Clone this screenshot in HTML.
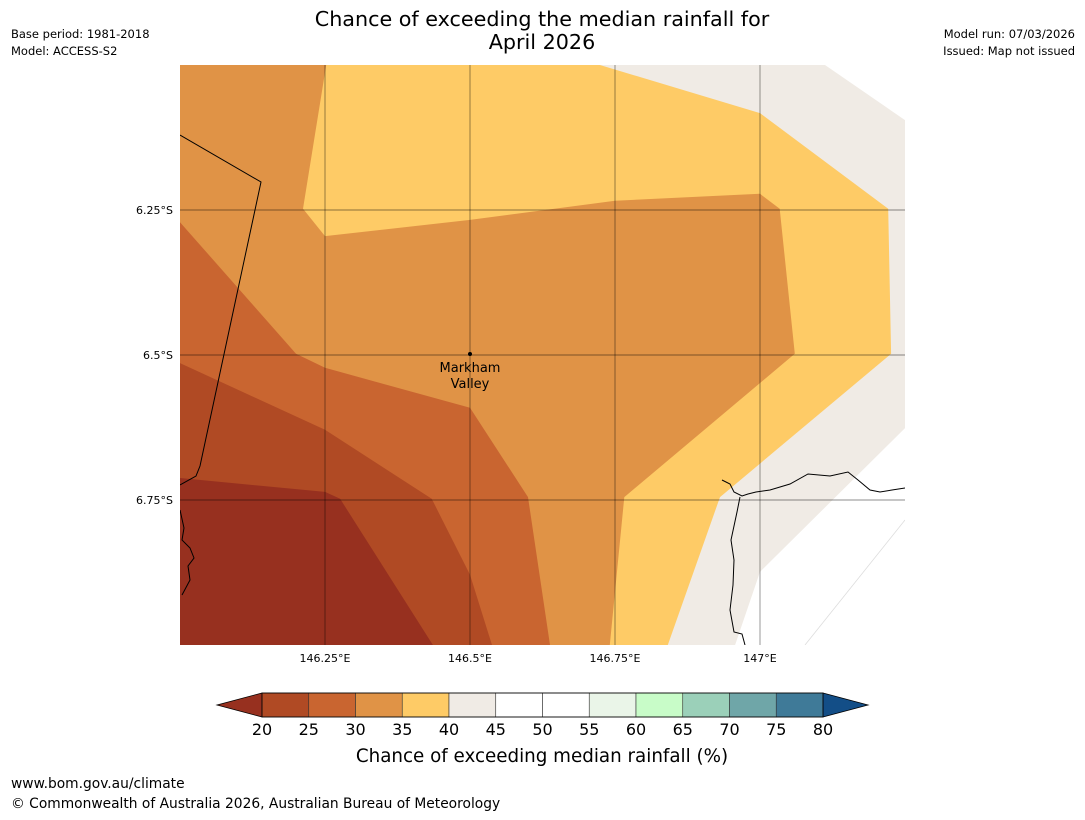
<!DOCTYPE html>
<html><head><meta charset="utf-8">
<style>
body{margin:0;background:#fff;font-family:"DejaVu Sans","Liberation Sans",sans-serif;}
svg text{font-family:"DejaVu Sans","Liberation Sans",sans-serif;}
</style></head>
<body>
<svg id="chart" width="1085" height="816" xmlns="http://www.w3.org/2000/svg">
<rect width="1085" height="816" fill="#fff"/>
<text x="542" y="26" font-size="20.7" text-anchor="middle">Chance of exceeding the median rainfall for</text>
<text x="542" y="49" font-size="20.7" text-anchor="middle">April 2026</text>
<text x="11" y="38" font-size="11.5">Base period: 1981-2018</text>
<text x="11" y="55" font-size="11.5">Model: ACCESS-S2</text>
<text x="1075" y="38" font-size="11.5" text-anchor="end">Model run: 07/03/2026</text>
<text x="1075" y="55" font-size="11.5" text-anchor="end">Issued: Map not issued</text>
<defs><clipPath id="mapclip"><rect x="180" y="65" width="725" height="580"/></clipPath></defs>
<g id="map" clip-path="url(#mapclip)"></g>
<g id="labels"></g>
<g id="cbar"></g>
<text x="542" y="762" font-size="18.3" text-anchor="middle">Chance of exceeding median rainfall (%)</text>
<text x="11" y="788" font-size="13.8">www.bom.gov.au/climate</text>
<text x="11" y="808" font-size="13.8">© Commonwealth of Australia 2026, Australian Bureau of Meteorology</text>
</svg>
<script>
const bandNames=['below-50','below-45','below-40','below-35','below-30','below-25'];
const bandColors=['#f0ebe5','#fecb66','#e09346','#c96530','#b04a24','#97301f'];
const lon50=[146,147.112,147.25,147.25,147.0,146.957,146];
const lat50=[6.0,6.0,6.095,6.626,6.874,7.0,7.0];
const lon45=[146,146.724,147.0,147.221,147.226,146.931,146.841,146];
const lat45=[6.0,6.0,6.083,6.248,6.498,6.745,7.0,7.0];
const lon40=[146,146.252,146.212,146.25,146.5,146.75,147.0,147.034,147.06,146.766,146.741,146];
const lat40=[6.0,6.0,6.248,6.295,6.267,6.234,6.222,6.248,6.498,6.745,7.0,7.0];
const lon35=[146,146.2,146.25,146.5,146.6,146.638,146];
const lat35=[6.271,6.498,6.522,6.591,6.745,7.0,7.0];
const lon30=[146,146.25,146.434,146.5,146.538,146];
const lat30=[6.514,6.629,6.748,6.879,7.0,7.0];
const lon25=[146,146.25,146.276,146.436,146];
const lat25=[6.712,6.736,6.748,7.0,7.0];
const lonTicks=[146.25,146.5,146.75,147];
const lonTickLabels=['146.25°E','146.5°E','146.75°E','147°E'];
const latTicks=[6.25,6.5,6.75];
const latTickLabels=['6.25°S','6.5°S','6.75°S'];
const cbLevels=[20,25,30,35,40,45,50,55,60,65,70,75,80];
const cbColors=['#b04a24','#c96530','#e09346','#fecb66','#f0ebe5','#ffffff','#ffffff','#eaf5e8','#c8fcc8','#9bd0b9','#6fa6a8','#3f7a98'];
const NS='http://www.w3.org/2000/svg';
function X(lon){return 180+(lon-146)*580;}
function Y(lat){return 65+(lat-6)*580;}
function mk(tag,attrs,parent){const e=document.createElementNS(NS,tag);for(const k in attrs)e.setAttribute(k,attrs[k]);parent.appendChild(e);return e;}
const map=document.getElementById('map');
const bg=mk('rect',{x:180,y:65,width:725,height:580,fill:'#fff'},map);


const bands=[[lon50,lat50],[lon45,lat45],[lon40,lat40],[lon35,lat35],[lon30,lat30],[lon25,lat25]];
bands.forEach((b,i)=>{
 const pts=b[0].map((lo,j)=>X(lo).toFixed(1)+','+Y(b[1][j]).toFixed(1)).join(' ');
 const p=mk('polygon',{points:pts,fill:bandColors[i]},map);
 
 
});
const faint=mk('line',{x1:905,y1:520,x2:805,y2:645,stroke:'#ddd','stroke-width':0.8},map);


const borderPaths=['M180,135 L261,182 L200,466 L196,476 L180,485','M180,510 L184,528 L182,540 L190,548 L194,558 L188,566 L190,580 L182,595','M722,480 L730,484 L734,492 L742,496 L748,494 L756,492 L770,490 L790,484 L808,474 L830,476 L848,472 L858,480 L870,490 L880,492 L892,490 L905,488','M740,497 L737,512 L731,540 L734,560 L733,585 L730,610 L734,632 L742,634 L745,645'];
borderPaths.forEach((d,i)=>{const p=mk('path',{d:d,fill:'none',stroke:'#000','stroke-width':1},map);
 
 });
const lab=document.getElementById('labels');
lonTicks.forEach((v,i)=>{
 const l=mk('line',{x1:X(v),y1:65,x2:X(v),y2:645,stroke:'#000','stroke-opacity':0.45,'stroke-width':0.9},lab);
 
 
 const t=mk('text',{x:X(v),y:662,'font-size':11,'text-anchor':'middle'},lab);t.textContent=lonTickLabels[i];
 
 
});
latTicks.forEach((v,i)=>{
 const l=mk('line',{x1:180,y1:Y(v),x2:905,y2:Y(v),stroke:'#000','stroke-opacity':0.45,'stroke-width':0.9},lab);
 
 
 const t=mk('text',{x:173,y:Y(v)+4,'font-size':11,'text-anchor':'end'},lab);t.textContent=latTickLabels[i];
 
 
});
const dot=mk('circle',{cx:470,cy:354,r:2,fill:'#000'},lab);


const t1=mk('text',{x:470,y:372,'font-size':13,'text-anchor':'middle'},lab);t1.textContent='Markham';


const t2=mk('text',{x:470,y:388,'font-size':13,'text-anchor':'middle'},lab);t2.textContent='Valley';


const cb=document.getElementById('cbar');
const cx0=262,cw=(823-262)/(cbLevels.length-1),cy=693,ch=24;
const lt=mk('polygon',{points:`${cx0},${cy} ${cx0},${cy+ch} 217,${cy+ch/2}`,fill:'#97301f',stroke:'#000','stroke-width':0.8},cb);


const rt=mk('polygon',{points:`823,${cy} 823,${cy+ch} 868,${cy+ch/2}`,fill:'#134e87',stroke:'#000','stroke-width':0.8},cb);


cbColors.forEach((c,i)=>{const r=mk('rect',{x:cx0+i*cw,y:cy,width:cw,height:ch,fill:c,stroke:'#333','stroke-width':0.6},cb);
 
 });
const fr=mk('rect',{x:cx0,y:cy,width:823-cx0,height:ch,fill:'none',stroke:'#000','stroke-width':0.8},cb);


cbLevels.forEach((v,i)=>{const t=mk('text',{x:cx0+i*cw,y:735,'font-size':16,'text-anchor':'middle'},cb);t.textContent=v;
 
 });
</script>
</body></html>
